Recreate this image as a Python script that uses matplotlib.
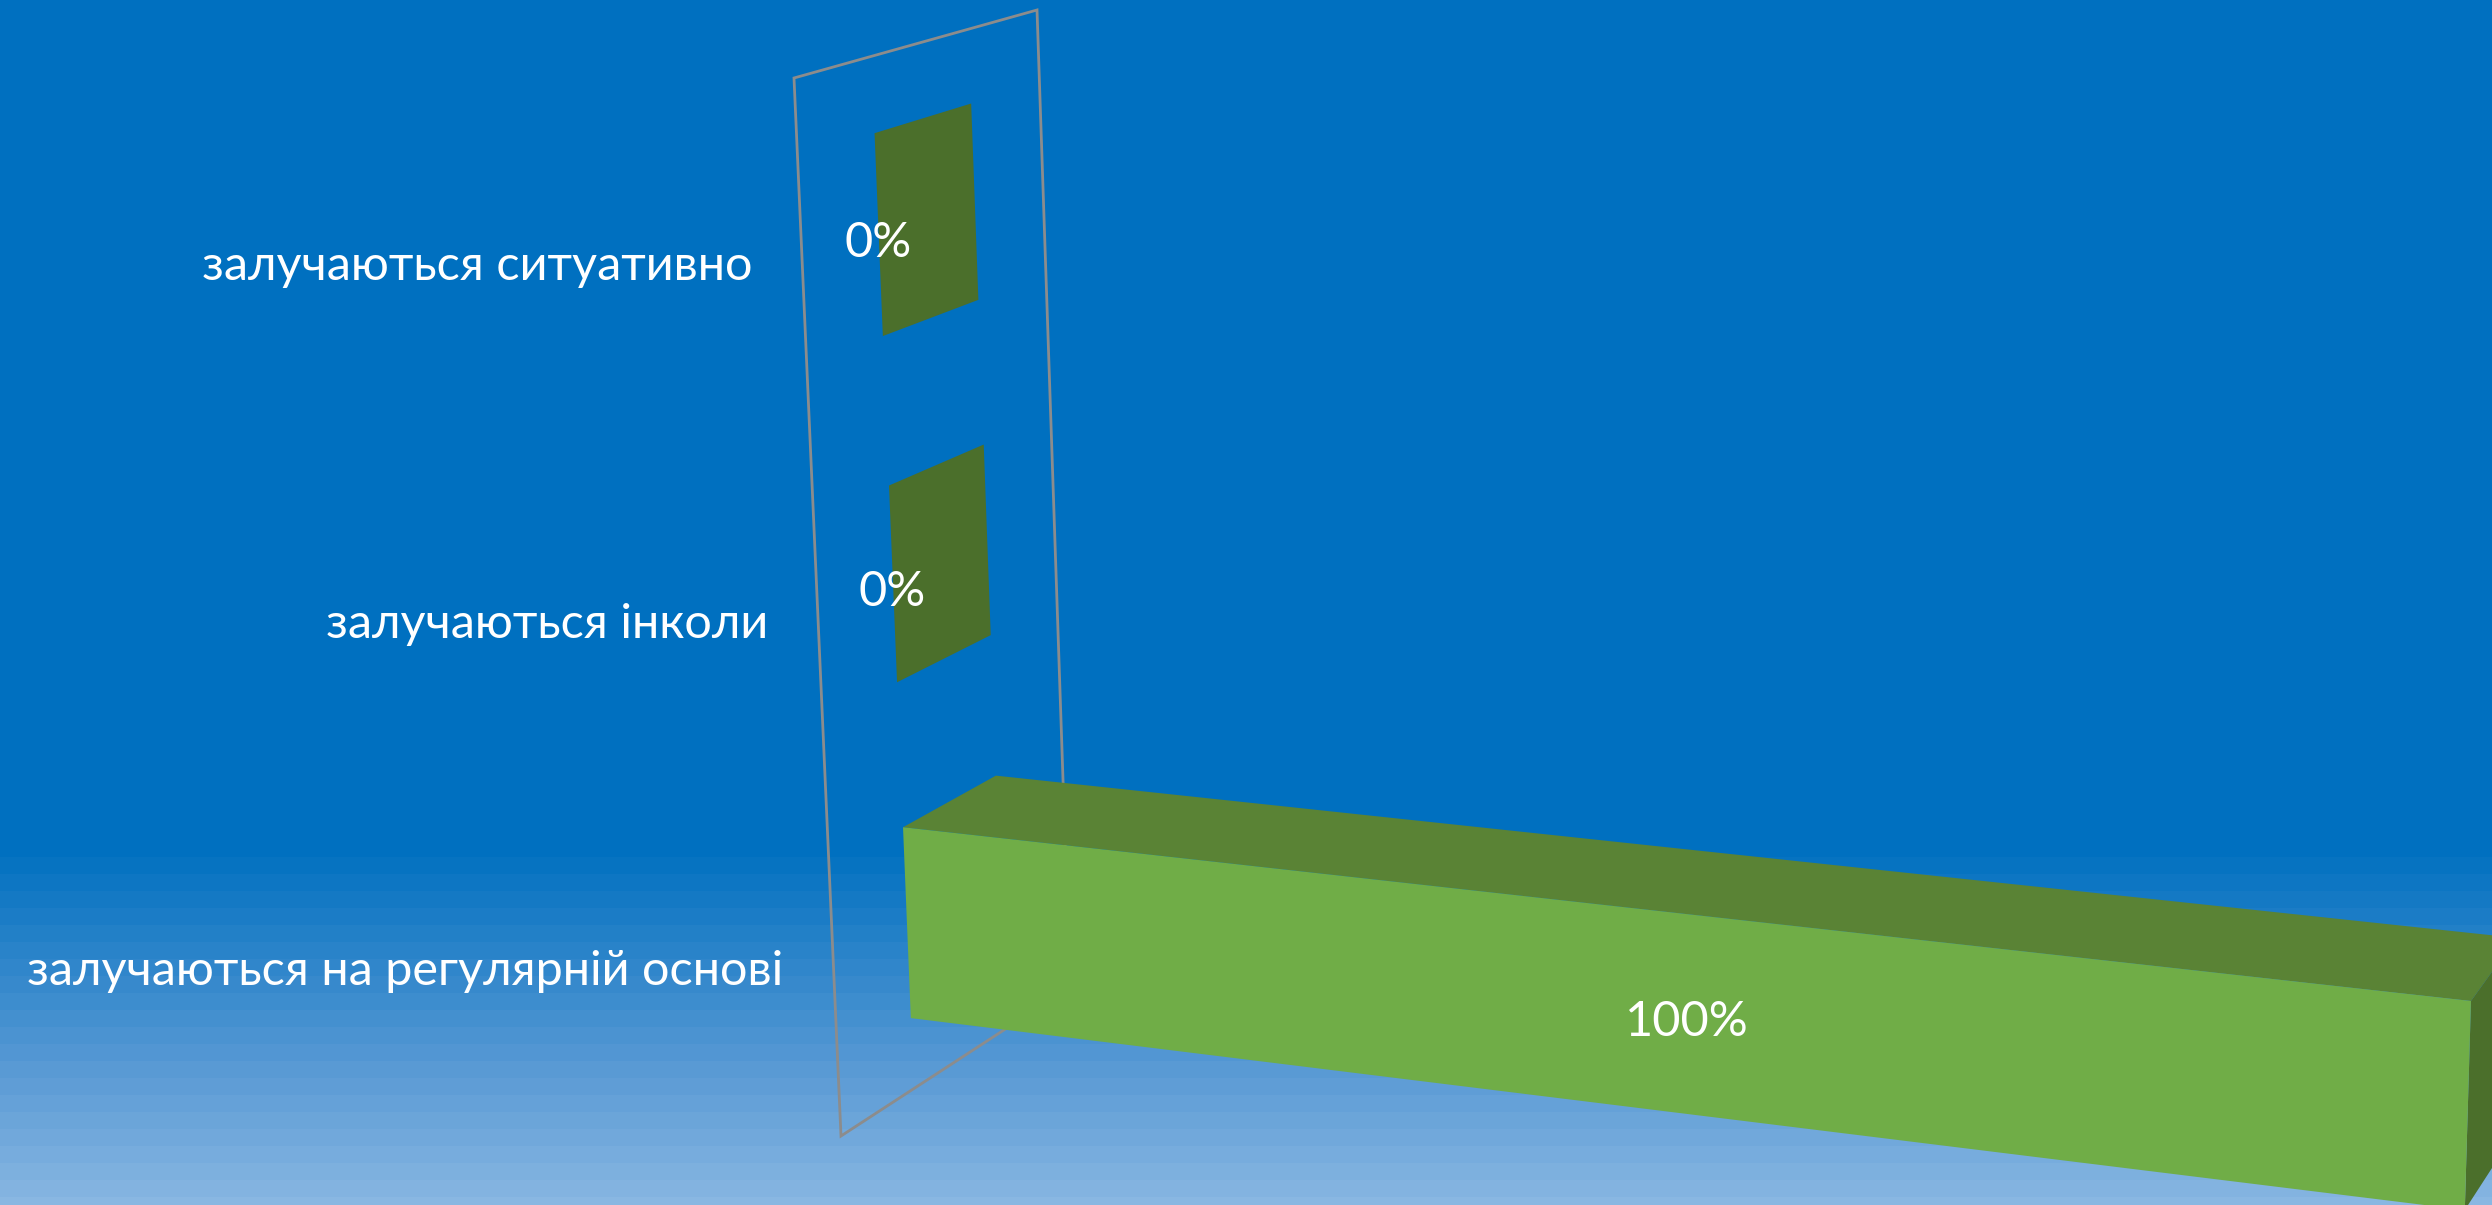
import numpy as np
import matplotlib
matplotlib.use("Agg")
import matplotlib.pyplot as plt
from matplotlib.patches import Polygon

# bottom category first
categories = [
    "залучаються на регулярній основі",
    "залучаються інколи",
    "залучаються ситуативно",
]
values = [1.0, 0.0, 0.0]
value_labels = ["100%", "0%", "0%"]

# ==========================
# Style and layout
# ==========================
WIDTH, HEIGHT = 2492, 1205

BAR_FRONT = "#70AD47"
BAR_TOP = "#5A8335"
BAR_SIDE = "#4B6F2B"
WALL_COLOR = "#8C8C8C"
FONT_SIZE = 35

BAR_SPAN = (0.214, 0.786)
BAR_DEPTH = (0.30, 0.70)

# (value, category position, depth) -> pixel
CAMERA = np.array([
    [1352.4, -27.82, 321.13, 841.0],
    [80.05, -353.86, -64.02, 1136.0],
    [-0.096, -0.015307, 0.0861, 1.0],
])

GRADIENT_ROWS = [840, 1065, 1205]
GRADIENT_COLORS = [(0x00, 0x70, 0xC0), (0x5B, 0x9B, 0xD5), (0x8C, 0xB9, 0xE3)]
GRADIENT_BAND = 17

plt.rcParams["font.family"] = ["Lato", "Noto Sans", "DejaVu Sans"]


def project(value, position, depth):
    point = CAMERA @ np.array([value, position, depth, 1.0])
    return point[0] / point[2], point[1] / point[2]


def face(*corners):
    return [project(*c) for c in corners]


fig = plt.figure(figsize=(WIDTH / 100, HEIGHT / 100), dpi=100)
ax = fig.add_axes([0, 0, 1, 1])

# --------------------------
# Background
# --------------------------
rows = np.arange(HEIGHT)
bands = (rows - GRADIENT_ROWS[0]) // GRADIENT_BAND * GRADIENT_BAND + GRADIENT_ROWS[0]
background = np.stack([
    np.interp(bands, GRADIENT_ROWS, [c[i] for c in GRADIENT_COLORS])
    for i in range(3)
], axis=1)[:, None, :] / 255
ax.imshow(background, extent=(0, WIDTH, HEIGHT, 0), aspect="auto",
          interpolation="nearest", zorder=0)

# --------------------------
# Back wall at value zero
# --------------------------
n = len(categories)
wall = face((0, 0, 0), (0, n, 0), (0, n, 1), (0, 0, 1))
ax.add_patch(Polygon(wall, closed=True, fill=False, edgecolor=WALL_COLOR,
                     linewidth=2.0, joinstyle="miter", zorder=1))

# --------------------------
# Bars
# --------------------------
z0, z1 = BAR_DEPTH
for i, (name, value, text) in enumerate(zip(categories, values, value_labels)):
    y0, y1 = i + BAR_SPAN[0], i + BAR_SPAN[1]

    front = face((0, y0, z0), (0, y1, z0), (value, y1, z0), (value, y0, z0))
    top = face((0, y1, z0), (0, y1, z1), (value, y1, z1), (value, y1, z0))
    side = face((value, y0, z0), (value, y1, z0), (value, y1, z1), (value, y0, z1))

    ax.add_patch(Polygon(top, closed=True, facecolor=BAR_TOP, edgecolor="none", zorder=2))
    ax.add_patch(Polygon(side, closed=True, facecolor=BAR_SIDE, edgecolor="none", zorder=2))
    if value > 0:
        ax.add_patch(Polygon(front, closed=True, facecolor=BAR_FRONT, edgecolor="none", zorder=3))

    cx, cy = np.mean(front, axis=0)
    ax.text(cx - 1, cy + 8, text, color="white", fontsize=FONT_SIZE,
            ha="center", va="center", zorder=4)

    lx, ly = project(0, i + 0.5, 0)
    ax.text(lx - 50, ly + 5, name, color="white", fontsize=FONT_SIZE,
            ha="right", va="center", zorder=4)

ax.set_xlim(0, WIDTH)
ax.set_ylim(HEIGHT, 0)
ax.axis("off")

fig.savefig("out.png", dpi=100)
plt.close(fig)
